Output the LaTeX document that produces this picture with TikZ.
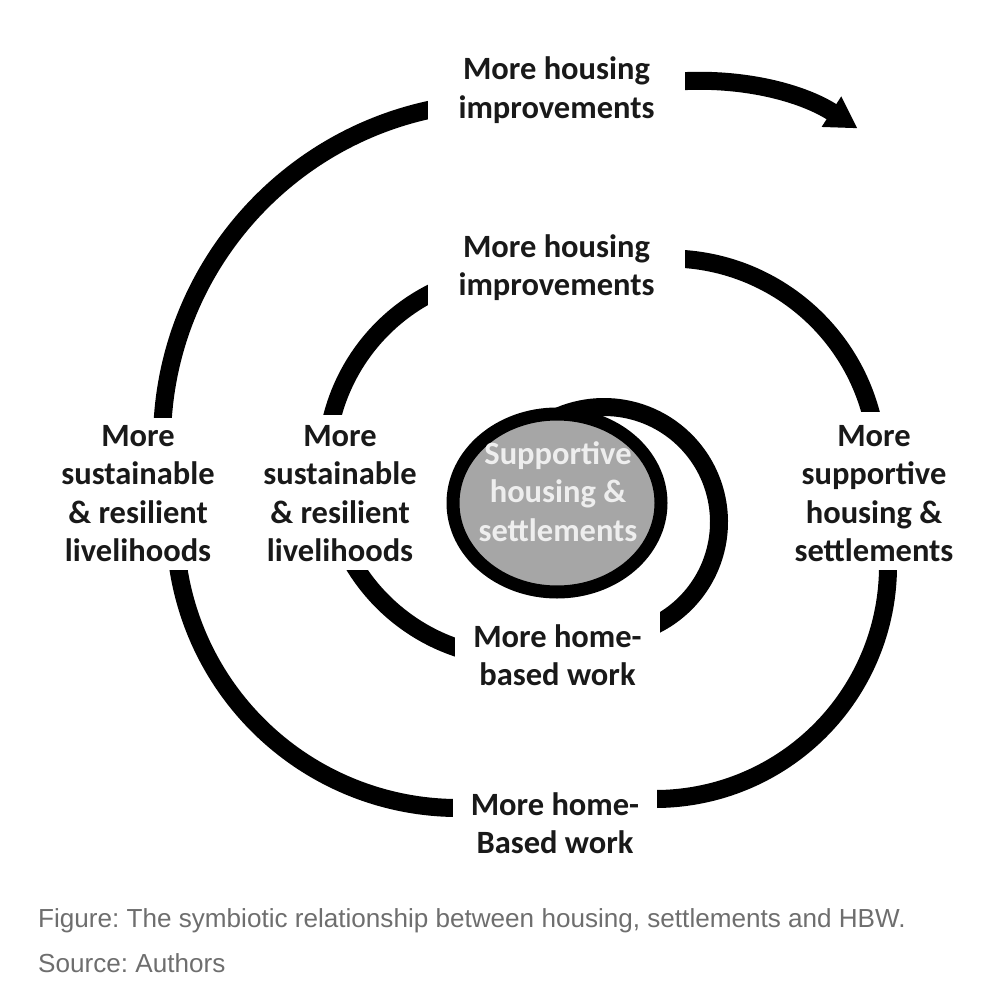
\documentclass[tikz,border=0pt]{standalone}
\usepackage{fontspec}
\usetikzlibrary{arrows.meta,shapes.geometric}
\newfontfamily\carl{Carlito}
\newfontfamily\capf{Liberation Sans}
\definecolor{txt}{RGB}{25,25,25}
\definecolor{circfill}{RGB}{166,166,166}
\definecolor{ctext}{RGB}{238,238,238}
\definecolor{captxt}{RGB}{110,110,110}
\frenchspacing
\begin{document}
\begin{tikzpicture}[x=1pt,y=-1pt,
  lbl/.style={fill=white, inner sep=0pt, align=center, anchor=base, text=txt,
    font=\carl\bfseries\fontsize{32.5}{38.5}\selectfont},
  spiral/.style={line width=18pt, line cap=butt},
  captext/.style={anchor=base west, inner sep=0pt, text=captxt,
    font=\capf\fontsize{26.1}{30}\selectfont}
]
\useasboundingbox (0,0) rectangle (1008,1008);

% centres of the arcs that make up the spiral
\coordinate (cA) at (604,522);
\coordinate (cB) at (519,465);
\coordinate (cD) at (669,467.5);
\coordinate (cE) at (655,566);
\coordinate (cF) at (458,525);
\coordinate (cG) at (502,442);
\coordinate (cH) at (696,380);

% spiral arcs (their ends are masked by the label boxes)
\draw[spiral] (cA) ++(-130:115) arc[start angle=-130, end angle=75, radius=115];
\draw[spiral] (cB) ++(100:193) arc[start angle=100, end angle=250, radius=193];
\draw[spiral] (cD) ++(-95:209) arc[start angle=-95, end angle=-8, radius=209];
\draw[spiral] (cE) ++(-8:233) arc[start angle=-8, end angle=100, radius=233];
\draw[spiral] (cF) ++(80:283) arc[start angle=80, end angle=182, radius=283];
\draw[spiral] (cG) ++(178:340) arc[start angle=178, end angle=265, radius=340];
\draw[spiral, -{Triangle[width=34pt,length=31pt]}] (cH) ++(-100:299)
  arc[start angle=-100, end angle=-57.3, radius=299];

% centre
\node[draw=black, fill=circfill, ellipse, line width=13pt, minimum width=208pt,
  minimum height=178pt, inner sep=0pt] (c) at (557,503) {};
\node[lbl, fill=none, text=ctext] (ct) at (558,541) {Supportive\\housing \&\\settlements};

% labels (anchor = baseline of the last line; white boxes cut the spiral)
\node[lbl, minimum width=257pt, text height=73.5pt, text depth=11.5pt] (t1) at (556.5,118.5) {More housing\\improvements};
\node[lbl, minimum width=257pt, text height=70.5pt, text depth=14.5pt] (t2) at (556.5,295.5) {More housing\\improvements};
\node[lbl, minimum width=156pt, text height=143.5pt, text depth=8.5pt] (lo) at (138,561.5) {More\\sustainable\\\& resilient\\livelihoods};
\node[lbl, minimum width=156pt, text height=146.5pt, text depth=8.5pt] (li) at (340,561.5) {More\\sustainable\\\& resilient\\livelihoods};
\node[lbl, minimum width=162pt, text height=149.5pt, text depth=8.5pt] (r) at (874,561.5) {More\\supportive\\housing \&\\settlements};
\node[lbl, minimum width=205pt, text height=80.5pt, text depth=14.5pt] (bi) at (557.5,685.5) {More home-\\based work};
\node[lbl, minimum width=204pt, text height=78.5pt, text depth=11.5pt] (bo) at (555,853.5) {More home-\\Based work};

% caption
\node[captext] (cap1) at (38,927) {Figure: The symbiotic relationship between housing, settlements and HBW.};
\node[captext] (cap2) at (38,972) {Source: Authors};
\end{tikzpicture}
\end{document}
